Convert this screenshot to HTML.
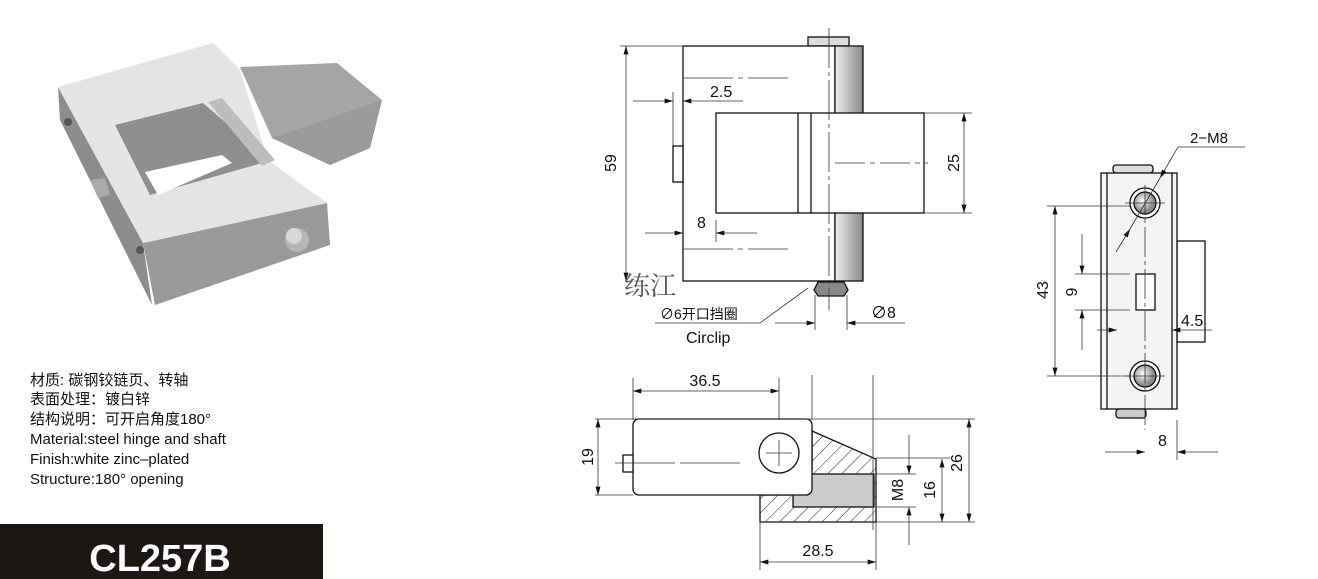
<!DOCTYPE html>
<html><head><meta charset="utf-8"><style>
body{margin:0;background:#fff;width:1318px;height:579px;overflow:hidden}
svg{display:block}
.t{font-family:"Liberation Sans","Noto Sans CJK SC",sans-serif;fill:#111}
</style></head><body>
<svg width="1318" height="579" viewBox="0 0 1318 579" xmlns="http://www.w3.org/2000/svg">
<defs>
<marker id="a" viewBox="0 0 10 6" refX="10" refY="3" markerWidth="10" markerHeight="5" orient="auto-start-reverse" markerUnits="userSpaceOnUse"><path d="M0,0L10,3L0,6z" fill="#111"/></marker>
<pattern id="h" width="10" height="10" patternUnits="userSpaceOnUse" patternTransform="rotate(45)"><line x1="0" y1="0" x2="0" y2="10" stroke="#222" stroke-width="1"/></pattern>
<linearGradient id="cyl" x1="0" x2="1"><stop offset="0" stop-color="#eee"/><stop offset="1" stop-color="#888"/></linearGradient>
<radialGradient id="hole" cx="0.4" cy="0.4"><stop offset="0" stop-color="#fff"/><stop offset="1" stop-color="#888"/></radialGradient>
<linearGradient id="shaft" x1="0" x2="1" y1="0" y2="0"><stop offset="0" stop-color="#888"/><stop offset="0.5" stop-color="#ddd"/><stop offset="1" stop-color="#888"/></linearGradient>
</defs>

<!-- Photo -->
<g stroke="none">
<!-- leaf -->
<polygon points="240,67 337,63 382,100 370,148 330,165 272,138" fill="#a5a5a5"/>
<polygon points="272,138 382,100 370,148 330,165" fill="#9a9a9a"/>
<!-- left face -->
<polygon points="58,87 60,120 152,305 143,243" fill="#8c8c8c"/>
<!-- front bottom face -->
<polygon points="143,243 327,203 330,245 155,305" fill="#999"/>
<!-- top face -->
<polygon points="58,87 213,43 240,70 268,160 327,203 143,243" fill="#e4e4e4"/>
<!-- hole -->
<polygon points="115,125 203,103 240,135 262,163 150,195" fill="#8e8e8e"/>
<polygon points="145,172 222,155 232,163 158,195" fill="#fff"/>
<!-- shaft -->
<polygon points="208,102 222,98 275,160 262,166" fill="#bdbdbd"/>
<circle cx="297" cy="240" r="12" fill="#b5b5b5"/>
<circle cx="294" cy="236" r="8" fill="#d8d8d8"/>
<circle cx="68" cy="122" r="4" fill="#555"/>
<circle cx="140" cy="250" r="4" fill="#555"/>
<polygon points="90,180 105,178 110,195 98,198" fill="#aaa"/>
</g>

<!-- Left text -->
<g class="t" font-size="15">
<text x="30" y="385">材质: 碳钢铰链页、转轴</text>
<text x="30" y="404">表面处理：镀白锌</text>
<text x="30" y="424">结构说明：可开启角度180°</text>
<text x="30" y="444">Material:steel hinge and shaft</text>
<text x="30" y="464">Finish:white zinc–plated</text>
<text x="30" y="484">Structure:180° opening</text>
</g>
<rect x="0" y="524" width="323" height="55" fill="#1c1614"/>
<text x="160" y="571" text-anchor="middle" font-family="Liberation Sans,sans-serif" font-weight="bold" font-size="38" fill="#fff">CL257B</text>

<!-- Front view -->
<g stroke="#111" stroke-width="1.3" fill="none">
<rect x="808" y="37" width="41" height="9" fill="#ddd"/>
<rect x="683" y="46" width="152" height="235" fill="#fff"/>
<rect x="835" y="46" width="28" height="235" fill="url(#cyl)"/>
<rect x="716" y="113" width="208" height="100" fill="#fff"/>
<line x1="798" y1="113" x2="798" y2="213"/><line x1="811" y1="113" x2="811" y2="213"/>
<rect x="673" y="146" width="10" height="36" fill="#fff"/>
<path d="M818,282 h26 l4,8 -4,6 h-26 l-4,-6z" fill="#888"/>
</g>
<g stroke="#333" stroke-width="0.8" fill="none">
<line x1="829" y1="28" x2="829" y2="310" stroke-dasharray="40,4,4,4"/>
<line x1="835" y1="163" x2="928" y2="163" stroke-dasharray="30,5,5,5"/>
<line x1="683" y1="78" x2="788" y2="78" stroke-dasharray="50,5,5,5"/>
<line x1="683" y1="249" x2="788" y2="249" stroke-dasharray="50,5,5,5"/>
<line x1="620" y1="46" x2="683" y2="46"/>
<line x1="626" y1="46" x2="626" y2="281" marker-start="url(#a)" marker-end="url(#a)"/>
<line x1="633" y1="101" x2="673" y2="101" marker-end="url(#a)"/>
<line x1="743" y1="101" x2="683" y2="101" marker-end="url(#a)"/>
<line x1="673" y1="92" x2="673" y2="146"/>
<line x1="645" y1="233" x2="683" y2="233" marker-end="url(#a)"/>
<line x1="757" y1="233" x2="716" y2="233" marker-end="url(#a)"/>
<line x1="716" y1="220" x2="716" y2="242"/>
<line x1="924" y1="113" x2="972" y2="113"/><line x1="924" y1="213" x2="972" y2="213"/>
<line x1="964" y1="113" x2="964" y2="213" marker-start="url(#a)" marker-end="url(#a)"/>
<line x1="815" y1="295" x2="815" y2="330"/><line x1="847" y1="295" x2="847" y2="330"/>
<line x1="775" y1="323" x2="815" y2="323" marker-end="url(#a)"/>
<line x1="905" y1="323" x2="847" y2="323" marker-end="url(#a)"/>
<polyline points="655,323 760,323 808,288"/>
</g>
<g class="t" font-size="16">
<text x="616" y="163" transform="rotate(-90 616 163)" text-anchor="middle">59</text>
<text x="710" y="97">2.5</text>
<text x="697" y="228">8</text>
<text x="962" y="163" transform="rotate(-90 962 163)" text-anchor="middle" dy="-3">25</text>
<text x="871" y="318">∅8</text>
<text x="660" y="319" font-size="14">∅6开口挡圈</text>
<text x="686" y="343">Circlip</text>
</g>
<text x="624" y="295" font-family="Liberation Serif,'Noto Serif CJK SC',serif" font-size="26" fill="#555">练江</text>

<!-- Top view -->
<g stroke="#111" stroke-width="1.3">
<polygon points="812,431 876,459 876,522 760,522 760,495 790,495 812,470" fill="url(#h)"/>
<rect x="793" y="474" width="81" height="33" fill="#ccc"/>
<rect x="633" y="419" width="179" height="76" rx="6" fill="#fff"/>
<circle cx="779" cy="453" r="20" fill="#fff"/>
<rect x="623" y="455" width="10" height="17" fill="#fff"/>
</g>
<g stroke="#333" stroke-width="0.8" fill="none">
<line x1="766" y1="453" x2="792" y2="453"/><line x1="779" y1="440" x2="779" y2="466"/>
<line x1="615" y1="463" x2="740" y2="463" stroke-dasharray="60,5"/>
<line x1="633" y1="378" x2="633" y2="420"/><line x1="779" y1="378" x2="779" y2="420"/>
<line x1="812" y1="375" x2="812" y2="420"/><line x1="873" y1="375" x2="873" y2="530"/>
<line x1="633" y1="391" x2="779" y2="391" marker-start="url(#a)" marker-end="url(#a)"/>
<line x1="595" y1="419" x2="975" y2="419"/><line x1="595" y1="495" x2="633" y2="495"/>
<line x1="598" y1="419" x2="598" y2="495" marker-start="url(#a)" marker-end="url(#a)"/>
<line x1="876" y1="458" x2="950" y2="458"/><line x1="876" y1="474" x2="916" y2="474"/>
<line x1="876" y1="507" x2="916" y2="507"/><line x1="876" y1="522" x2="975" y2="522"/>
<line x1="969" y1="419" x2="969" y2="522" marker-start="url(#a)" marker-end="url(#a)"/>
<line x1="942" y1="459" x2="942" y2="522" marker-start="url(#a)" marker-end="url(#a)"/>
<line x1="909" y1="435" x2="909" y2="474" marker-end="url(#a)"/>
<line x1="909" y1="545" x2="909" y2="507" marker-end="url(#a)"/>
<line x1="760" y1="522" x2="760" y2="570"/><line x1="876" y1="522" x2="876" y2="570"/>
<line x1="760" y1="562" x2="876" y2="562" marker-start="url(#a)" marker-end="url(#a)"/>
</g>
<g class="t" font-size="16">
<text x="705" y="386" text-anchor="middle">36.5</text>
<text x="588" y="457" transform="rotate(-90 588 457)" text-anchor="middle" dy="5">19</text>
<text x="962" y="463" transform="rotate(-90 962 463)" text-anchor="middle" dy="0">26</text>
<text x="935" y="490" transform="rotate(-90 935 490)" text-anchor="middle">16</text>
<text x="903" y="490" transform="rotate(-90 903 490)" text-anchor="middle">M8</text>
<text x="818" y="556" text-anchor="middle">28.5</text>
</g>

<!-- Side view -->
<g stroke="#111" stroke-width="1.3">
<rect x="1113" y="165" width="40" height="8" rx="3" fill="#ddd"/>
<rect x="1177" y="241" width="28" height="101" fill="#fff"/>
<rect x="1101" y="173" width="76" height="236" fill="#f4f4f4"/>
<line x1="1107" y1="173" x2="1107" y2="409"/><line x1="1172" y1="173" x2="1172" y2="409"/>
<circle cx="1145" cy="203" r="15" fill="#fff"/><circle cx="1145" cy="203" r="11" fill="url(#hole)"/>
<circle cx="1145" cy="376" r="15" fill="#fff"/><circle cx="1145" cy="376" r="11" fill="url(#hole)"/>
<rect x="1136" y="274" width="19" height="36" fill="#fff"/>
<rect x="1116" y="409" width="30" height="9" rx="3" fill="#ccc"/>
</g>
<g stroke="#333" stroke-width="0.8" fill="none">
<line x1="1145" y1="185" x2="1145" y2="430" stroke-dasharray="30,4,4,4"/>
<line x1="1125" y1="203" x2="1165" y2="203"/><line x1="1125" y1="376" x2="1165" y2="376"/>
<line x1="1047" y1="206" x2="1130" y2="206"/><line x1="1047" y1="376" x2="1130" y2="376"/>
<line x1="1055" y1="206" x2="1055" y2="376" marker-start="url(#a)" marker-end="url(#a)"/>
<line x1="1075" y1="274" x2="1130" y2="274"/><line x1="1075" y1="310" x2="1130" y2="310"/>
<line x1="1082" y1="234" x2="1082" y2="274" marker-end="url(#a)"/>
<line x1="1082" y1="350" x2="1082" y2="310" marker-end="url(#a)"/>
<line x1="1097" y1="330" x2="1117" y2="330" marker-end="url(#a)"/>
<line x1="1212" y1="330" x2="1172" y2="330" marker-end="url(#a)"/>
<line x1="1177" y1="420" x2="1177" y2="460"/>
<line x1="1105" y1="452" x2="1145" y2="452" marker-end="url(#a)"/>
<line x1="1218" y1="452" x2="1177" y2="452" marker-end="url(#a)"/>
<polyline points="1245,147 1178,147 1160,178" marker-end="url(#a)"/>
<line x1="1116" y1="252" x2="1130" y2="229" marker-end="url(#a)"/>
<line x1="1130" y1="229" x2="1160" y2="178"/>
</g>
<g class="t" font-size="16">
<text x="1043" y="290" transform="rotate(-90 1043 290)" text-anchor="middle" dy="5">43</text>
<text x="1072" y="292" transform="rotate(-90 1072 292)" text-anchor="middle" dy="5">9</text>
<text x="1181" y="326">4.5</text>
<text x="1158" y="446">8</text>
<text x="1190" y="143" font-size="15">2−M8</text>
</g>
</svg>
</body></html>
